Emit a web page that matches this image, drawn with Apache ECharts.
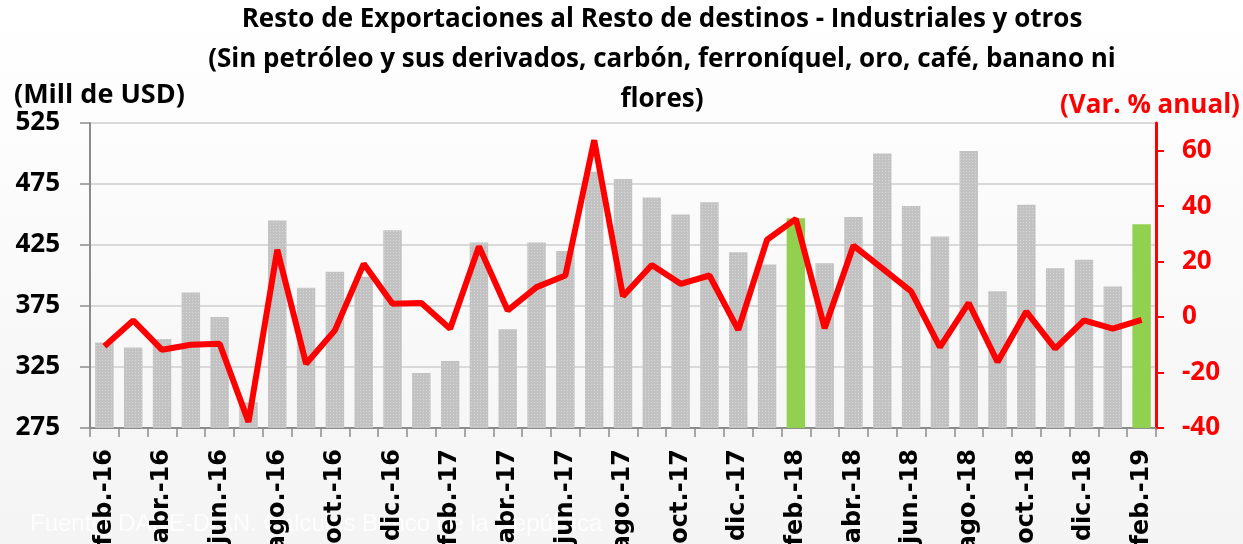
<!DOCTYPE html>
<html>
<head>
<meta charset="utf-8">
<script src="https://cdn.jsdelivr.net/npm/echarts@6/dist/echarts.min.js"></script>
<style>
  html, body { margin: 0; padding: 0; background: #fff; }
  #chart { width: 1243px; height: 544px; }
</style>
</head>
<body>
<div id="chart"></div>
<script>
// months feb-16 .. feb-19
var months = [
  'feb.-16', 'mar.-16', 'abr.-16', 'may.-16', 'jun.-16', 'jul.-16', 'ago.-16', 'sep.-16', 'oct.-16', 'nov.-16', 'dic.-16',
  'ene.-17', 'feb.-17', 'mar.-17', 'abr.-17', 'may.-17', 'jun.-17', 'jul.-17', 'ago.-17', 'sep.-17', 'oct.-17', 'nov.-17', 'dic.-17',
  'ene.-18', 'feb.-18', 'mar.-18', 'abr.-18', 'may.-18', 'jun.-18', 'jul.-18', 'ago.-18', 'sep.-18', 'oct.-18', 'nov.-18', 'dic.-18',
  'ene.-19', 'feb.-19'
];

// Mill de USD
var exportaciones = [
  345, 341, 348, 386, 366, 296, 445, 390, 403, 399, 437,
  320, 330, 427, 356, 427, 420, 485, 479, 464, 450, 460, 419,
  409, 447, 410, 448, 500, 457, 432, 502, 387, 458, 406, 413,
  391, 442
];

// Var. % anual
var variacion = [
  -10.5, -1.2, -11.8, -10, -9.6, -37.8, 24.3, -16.8, -4.8, 19.2, 4.8,
  5.1, -4.2, 25.5, 2.4, 10.8, 15, 63.8, 7.5, 18.8, 12, 15, -4.6,
  27.9, 35.4, -4, 25.8, 17.6, 9.3, -10.8, 5.1, -16.2, 2, -11.4, -1.2,
  -4.2, -1
];

var leftTicks = [275, 325, 375, 425, 475, 525];
var highlighted = ['feb.-18', 'feb.-19'];

var chart = echarts.init(document.getElementById('chart'));

var barData = exportaciones.map(function (v, i) {
  if (highlighted.indexOf(months[i]) >= 0) {
    return { value: v, itemStyle: { color: '#92d050', decal: { symbol: 'none' } } };
  }
  return v;
});

var option = {
  backgroundColor: {
    type: 'linear', x: 0, y: 0, x2: 0, y2: 1,
    colorStops: [{ offset: 0, color: '#ffffff' }, { offset: 1, color: '#f4f4f4' }]
  },
  animation: false,
  grid: { left: 90, right: 87, top: 123, bottom: 116, outerBoundsMode: 'none', containLabel: false },
  graphic: [
    {
      type: 'text', x: 662, y: 0,
      style: {
        text: 'Resto de Exportaciones al Resto de destinos - Industriales y otros\n(Sin petróleo y sus derivados, carbón, ferroníquel, oro, café, banano ni\nflores)',
        align: 'center', textAlign: 'center', lineHeight: 40,
        font: 'bold 26px "Open Sans"', fill: '#000'
      }
    },
    {
      type: 'text', x: 14, y: 95,
      style: { text: '(Mill de USD)', textVerticalAlign: 'middle', font: 'bold 27px "Open Sans"', fill: '#000' }
    },
    {
      type: 'text', x: 1060, y: 106,
      style: { text: '(Var. % anual)', textVerticalAlign: 'middle', font: 'bold 26px "Open Sans"', fill: '#ff0000' }
    },
    {
      type: 'text', x: 30, y: 512,
      style: { text: 'Fuente: DANE-DIAN. Cálculos Banco de la República', font: '24px "Liberation Sans"', fill: '#fdfdfd' }
    }
  ],
  xAxis: {
    type: 'category',
    data: months,
    boundaryGap: true,
    axisLine: { onZero: false, lineStyle: { color: '#8c8c8c', width: 2 } },
    axisTick: { show: true, interval: 0, length: 9, lineStyle: { color: '#8c8c8c', width: 1.5 } },
    axisLabel: {
      interval: 1, rotate: 90, margin: 21,
      fontFamily: 'DejaVu Sans', fontWeight: 'bold', fontSize: 24, color: '#000'
    }
  },
  yAxis: [
    {
      type: 'value', min: 275, max: 525,
      axisLine: { show: true, lineStyle: { color: '#8c8c8c', width: 2 } },
      axisTick: { show: true, length: 10, customValues: leftTicks, lineStyle: { color: '#8c8c8c', width: 1.5 } },
      axisLabel: {
        customValues: leftTicks, margin: 30,
        fontFamily: 'Open Sans', fontWeight: 'bold', fontSize: 26, color: '#000'
      },
      splitLine: { show: true, lineStyle: { color: '#d9d9d9', width: 2 } }
    },
    {
      type: 'value', min: -40, max: 70, interval: 20, position: 'right',
      axisLine: { show: true, lineStyle: { color: '#ff0000', width: 3 } },
      axisTick: { show: true, length: 8, lineStyle: { color: '#ff0000', width: 2 } },
      axisLabel: {
        showMaxLabel: false, margin: 26,
        fontFamily: 'Open Sans', fontWeight: 'bold', fontSize: 26, color: '#ff0000'
      },
      splitLine: { show: false }
    }
  ],
  series: [
    {
      name: 'Mill de USD',
      type: 'bar',
      yAxisIndex: 0,
      barWidth: '64%',
      data: barData,
      itemStyle: {
        color: '#c2c2c2',
        decal: {
          symbol: 'rect', symbolSize: 1, color: 'rgba(255,255,255,0.35)',
          dashArrayX: [1, 2], dashArrayY: [1, 2], rotation: 0
        }
      }
    },
    {
      name: 'Var. % anual',
      type: 'line',
      yAxisIndex: 1,
      data: variacion,
      symbol: 'none',
      lineStyle: { color: '#ff0000', width: 6 },
      z: 5
    }
  ]
};

chart.setOption(option);
</script>
</body>
</html>
